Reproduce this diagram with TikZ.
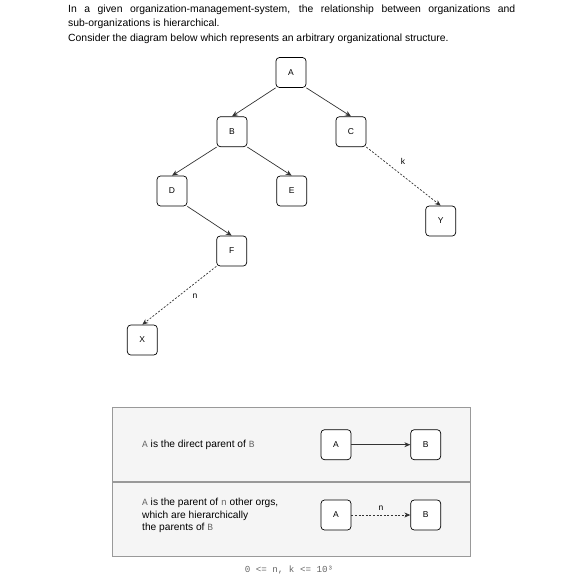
\documentclass[tikz,border=0pt]{standalone}
\usepackage{fontspec}
\setmainfont{Liberation Sans}
\newfontfamily\monofont{Liberation Mono}
\usetikzlibrary{arrows.meta}
\definecolor{legfill}{HTML}{F5F5F5}
\definecolor{legline}{HTML}{999999}
\definecolor{monogray}{HTML}{666666}
\definecolor{edgecol}{HTML}{333333}
\tikzset{
  org/.style={draw=black, fill=white, rounded corners=3.5pt, minimum width=30pt, minimum height=30pt, inner sep=0pt, line width=0.7pt, font=\fontsize{8.5}{9}\selectfont},
  link/.style={draw=edgecol, line width=0.7pt, -{Stealth[length=6pt,width=5pt]}},
  dlink/.style={link, dash pattern=on 2pt off 1.6pt},
  lbl/.style={font=\fontsize{8.5}{9}\selectfont, inner sep=0pt},
  hdr/.style={anchor=west, inner sep=0pt, font=\fontsize{10.4}{12}\selectfont},
  legtxt/.style={anchor=west, inner sep=0pt, align=left, font=\fontsize{10.2}{12.3}\selectfont},
}
\newcommand{\mono}[1]{{\monofont\fontsize{9.5}{9}\selectfont\color{monogray}#1}}
\begin{document}
\begin{tikzpicture}[x=1pt,y=-1pt]
\useasboundingbox (0,0) rectangle (587,587);
% header
\node[hdr] (h1) at (68,9.5) {\makebox[447pt][s]{In a given organization-management-system, the relationship between organizations and}};
\node[hdr] (h2) at (68,24) {sub-organizations is hierarchical.};
\node[hdr] (h3) at (68,38.5) {Consider the diagram below which represents an arbitrary organizational structure.};
% tree
\node[org] (A) at (291,72.5) {A};
\node[org] (B) at (232,131.7) {B};
\node[org] (C) at (351,131.7) {C};
\node[org] (D) at (172,191) {D};
\node[org] (E) at (291.7,191) {E};
\node[org] (F) at (231.7,251) {F};
\node[org] (Y) at (440.7,221) {Y};
\node[org] (X) at (142.3,340) {X};
\draw[link] (A.south west) -- (B.north);
\draw[link] (A.south east) -- (C.north);
\draw[link] (B.south west) -- (D.north);
\draw[link] (B.south east) -- (E.north);
\draw[link] (D.south east) -- (F.north);
\draw[dlink] (C.south east) -- (Y.north);
\draw[dlink] (F.south west) -- (X.north);
\node[lbl] (k) at (403,161.7) {k};
\node[lbl] (n) at (195,296.7) {n};
% legend
\draw[draw=legline, fill=legfill, line width=0.8pt] (112.7,407.3) rectangle (470.7,556);
\draw[draw=legline, line width=1.6pt] (112.7,481.7) -- (470.7,481.7);
\node[legtxt] (t1) at (142,444.8) {\mono{A} is the direct parent of \mono{B}};
\node[legtxt] (t2) at (142,515.5) {\mono{A} is the parent of \mono{n} other orgs,\\which are hierarchically\\the parents of \mono{B}};
\node[org] (LA1) at (336,444.7) {A};
\node[org] (LB1) at (425.7,444.7) {B};
\node[org] (LA2) at (336,515) {A};
\node[org] (LB2) at (425.7,515) {B};
\draw[link] (LA1.east) -- (LB1.west);
\draw[dlink] (LA2.east) -- (LB2.west);
\node[lbl] (ln) at (381,508.3) {n};
% bottom
\node[inner sep=0pt, font=\monofont\fontsize{9.2}{10}\selectfont, text=monogray] (cons) at (289,570.3) {0 <= n, k <= 10³};
\end{tikzpicture}
\end{document}
